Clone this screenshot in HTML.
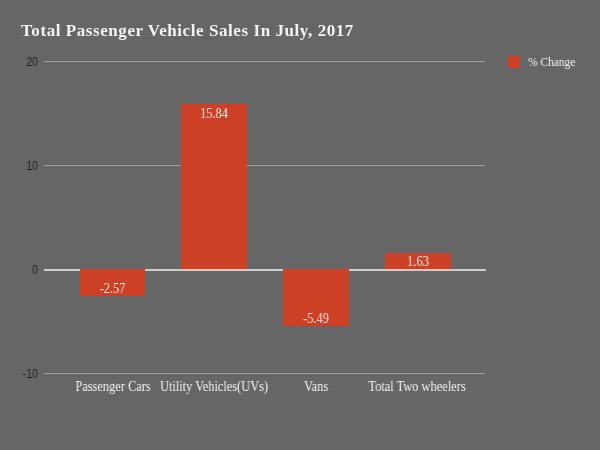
<!DOCTYPE html>
<html><head><meta charset="utf-8">
<style>
html,body{margin:0;padding:0;}
body{width:600px;height:450px;background:#666666;position:relative;overflow:hidden;font-family:"Liberation Serif",serif;}
.a{position:absolute;white-space:nowrap;}
.t{will-change:transform;}
.title{left:21px;top:21px;font-size:17px;letter-spacing:0.57px;font-weight:bold;color:#f3f3f3;line-height:20px;}
.grid{position:absolute;left:44px;width:441px;height:1px;background:#a0a0a0;}
.zero{position:absolute;left:44px;width:442px;height:2px;background:#e0e0e0;}
.yl{position:absolute;font-family:"Liberation Sans",sans-serif;font-size:12px;color:#222;text-align:right;width:30px;left:8px;line-height:14px;transform:scaleX(0.88);transform-origin:right center;}
.bar{position:absolute;background:#cc4125;}
.vl{position:absolute;color:#fbe9e5;font-size:14.5px;line-height:14px;text-align:center;transform:scaleX(0.86);}
.cl{position:absolute;white-space:nowrap;color:#f3f3f3;font-size:14px;line-height:14px;text-align:center;transform:scaleX(0.885);}
.leg{position:absolute;left:508px;top:56px;width:12px;height:12px;background:#cc4125;}
.legt{position:absolute;left:528px;top:55px;font-size:12px;color:#f3f3f3;line-height:14px;transform:scaleX(0.955);transform-origin:left center;white-space:nowrap;}
</style></head>
<body>
<div class="a title t">Total Passenger Vehicle Sales In July, 2017</div>

<div class="grid" style="top:61px"></div>
<div class="grid" style="top:165px"></div>
<div class="grid" style="top:373px"></div>

<div class="yl t" style="top:55px">20</div>
<div class="yl t" style="top:159px">10</div>
<div class="yl t" style="top:263px">0</div>
<div class="yl t" style="top:367px">-10</div>

<div class="bar" style="left:181px;top:104px;width:66px;height:166px"></div>
<div class="bar" style="left:385px;top:253px;width:66px;height:17px"></div>
<div class="zero" style="top:269px;width:442px;background:rgba(235,235,235,0.78)"></div>
<div class="bar" style="left:80px;top:269px;width:65px;height:27px"></div>
<div class="bar" style="left:283px;top:269px;width:66px;height:57px"></div>

<div class="vl t" style="left:80px;width:65px;top:281px">-2.57</div>
<div class="vl t" style="left:181px;width:66px;top:106px">15.84</div>
<div class="vl t" style="left:283px;width:66px;top:311px">-5.49</div>
<div class="vl t" style="left:385px;width:66px;top:254px">1.63</div>

<div class="cl t" style="left:12.5px;width:200px;top:380px">Passenger Cars</div>
<div class="cl t" style="left:113.5px;width:200px;top:380px">Utility Vehicles(UVs)</div>
<div class="cl t" style="left:215.5px;width:200px;top:380px">Vans</div>
<div class="cl t" style="left:317px;width:200px;top:380px">Total Two wheelers</div>

<div class="leg"></div>
<div class="legt t">% Change</div>
</body></html>
